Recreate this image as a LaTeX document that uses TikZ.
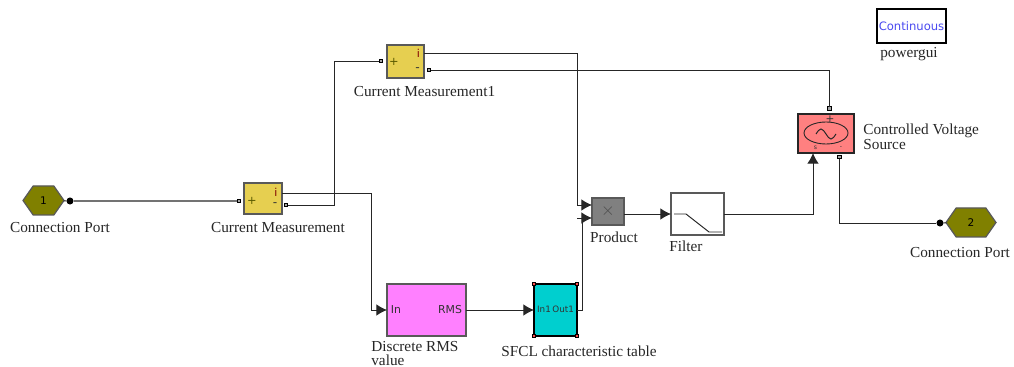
\documentclass[tikz,border=0pt]{standalone}
\usepackage{fontspec}
\setmainfont{Liberation Serif}
\newfontfamily\blockfont{DejaVu Sans}
\usetikzlibrary{positioning}
\usetikzlibrary{arrows.meta}
\usetikzlibrary{shapes.geometric}
\usetikzlibrary{shapes.symbols}
\definecolor{portolive}{HTML}{808000}
\definecolor{measyellow}{HTML}{E6CF50}
\definecolor{rmspink}{HTML}{FF80FF}
\definecolor{tablecyan}{HTML}{00CFCF}
\definecolor{sourcered}{HTML}{FF8080}
\definecolor{linkblue}{HTML}{4A4AF0}
\tikzset{
wire/.style={line width=0.55pt, draw=black!85}, % plain connection
feed/.style={wire, -{Latex[length=6pt,width=6.5pt]}}, % connection that ends on a signal input
block/.style={draw=black!65, line width=0.7pt, inner sep=0pt, outer sep=0pt},
conn/.style={block, shape=signal, signal to=east and west, signal pointer angle=110, fill=portolive, minimum height=0.58cm, font=\blockfont\fontsize{6}{7}\selectfont},
port/.style={draw=black, fill=black!35, line width=0.5pt, inner sep=0pt, outer sep=0pt, minimum size=2.2pt},
dot/.style={circle, fill=black, inner sep=0pt, outer sep=0pt, minimum size=4pt},
handle/.style={draw=black, fill=red!70, line width=0.6pt, inner sep=0pt, minimum size=2pt},
title/.style={font=\fontsize{8.7}{8}\selectfont, text=black!85, inner sep=0pt},
tag/.style={font=\blockfont\fontsize{6.2}{7}\selectfont, text=black!80, inner sep=0pt},
}

\begin{document}
\begin{tikzpicture}[x=0.02cm, y=-0.02cm]
\useasboundingbox (0,0) rectangle (1014,367);
% blocks
\node[conn, minimum width=0.82cm] (PORTA) at (43.5,200.5) {1};
\node[dot] (DOTA) at (70,201) {};
\node[block, fill=measyellow, minimum width=0.76cm, minimum height=0.62cm] (CM) at (263,198.5) {};
\node[block, fill=measyellow, minimum width=0.74cm, minimum height=0.66cm] (CMB) at (405.5,61.5) {};
\node[block, fill=rmspink, minimum width=1.58cm, minimum height=1.04cm] (RMS) at (426.5,310) {};
\node[block, draw=black, fill=tablecyan, minimum width=0.86cm, minimum height=1.04cm] (SFCL) at (555.5,310) {};
\node[block, fill=black!50, minimum width=0.64cm, minimum height=0.54cm, text=black!70] (PROD) at (608,211.5) {$\times$};
\node[block, fill=white, minimum width=1.06cm, minimum height=0.84cm] (FILT) at (697.5,214) {};
\node[block, draw=black!85, fill=sourcered, minimum width=1.12cm, minimum height=0.78cm] (SRC) at (826,133.5) {};
\node[conn, minimum width=1cm] (PORTB) at (971,222.5) {2};
\node[dot] (DOTB) at (940,223) {};
\node[block, draw=black, fill=white, minimum width=1.38cm, minimum height=0.68cm, text=linkblue, font=\blockfont\fontsize{6.6}{8}\selectfont] (GUI) at (911.5,26) {Continuous};
% small marks inside the blocks
\node[tag, text=portolive!70!black, font=\blockfont\fontsize{6.5}{8}\selectfont] (CMplus) at (252,201) {+};
\node[tag, text=red!50!black] (CMitag) at (276,192.5) {i};
\node[tag, font=\blockfont\fontsize{7}{8}\selectfont] (CMmtag) at (275,205) {-};
\node[tag, text=portolive!70!black, font=\blockfont\fontsize{6.5}{8}\selectfont] (CMBplus) at (394,62) {+};
\node[tag, text=red!50!black] (CMBitag) at (418.5,53) {i};
\node[tag, font=\blockfont\fontsize{7}{8}\selectfont] (CMBmtag) at (417.5,70) {-};
\node[tag] (RMSin) at (396,310) {In};
\node[tag] (RMSout) at (450,310) {RMS};
\node[tag, font=\blockfont\fontsize{5}{7}\selectfont] (SFCLtag) at (555.5,309) {In1\,Out1};
\node[draw=black!85, ellipse, line width=0.5pt, inner sep=0pt, minimum width=0.88cm, minimum height=0.44cm] (SRCicon) at (826,133) {};
\node[tag, font=\blockfont\fontsize{6}{7}\selectfont] (SRCplus) at (830,119.5) {+};
\node[tag, font=\blockfont\fontsize{3.5}{4}\selectfont] (SRCs) at (815.5,148) {s};
\node[tag, font=\blockfont\fontsize{3.5}{4}\selectfont] (SRCm) at (841,148) {-};
\draw[wire] (816,134) sin (821,129) cos (826,134) sin (831,139) cos (836,134);
\draw[wire] (674,214) -- (686,214) -- (709,232) -- (722,232);
\node[handle] (HA) at (SFCL.north west) {};
\node[handle] (HB) at (SFCL.north east) {};
\node[handle] (HC) at (SFCL.south west) {};
\node[handle] (HD) at (SFCL.south east) {};
% ports
\node[port] (CMin) at (239,201) {};
\node[port] (CMminus) at (286,205) {};
\node[port] (CMBin) at (381,61) {};
\node[port] (CMBminus) at (429,70) {};
\node[port] (SRCtop) at (829,108.5) {};
\node[port] (SRCbot) at (839,157) {};
% where the wires bend or meet a block side
\coordinate (CMi) at (282,193);
\coordinate (CMBi) at (424,53);
\coordinate (bendA) at (334,61);
\coordinate (bendB) at (371,193);
\coordinate (bendC) at (577,53);
\coordinate (bendD) at (582,218);
\coordinate (PRODa) at (592,205);
\coordinate (PRODb) at (592,218);
\coordinate (PRODc) at (624,214);
\coordinate (stub) at (577,218);
\coordinate (SRCin) at (813,153);
% wires
\draw[wire] (PORTA) -- (DOTA);
\draw[wire, draw=black!55, line width=0.8pt] (DOTA) -- (CMin);
\draw[wire] (CMminus) -| (bendA) -- (CMBin);
\draw[feed] (CMi) -- (bendB) |- (RMS.west);
\draw[feed] (RMS.east) -- (SFCL.west);
\draw[wire] (SFCL.east) -| (bendD);
\draw[feed] (stub) -- (PRODb);
\draw[feed] (CMBi) -- (bendC) |- (PRODa);
\draw[feed] (PRODc) -- (FILT.west);
\draw[feed] (FILT.east) -| (SRCin);
\draw[wire] (CMBminus) -| (SRCtop);
\draw[wire] (SRCbot) |- (DOTB);
\draw[wire] (DOTB) -- (PORTB);
% titles
\node[title] (tPORTA) at (60,228) {Connection Port};
\node[title] (tCM) at (278,228) {Current Measurement};
\node[title] (tCMB) at (424.5,92) {Current Measurement1};
\node[title, align=left, anchor=north west] (tRMS) at (371,341) {Discrete RMS\\value};
\node[title] (tSFCL) at (579,351) {SFCL characteristic table};
\node[title] (tPROD) at (614,237.5) {Product};
\node[title] (tFILT) at (686,246.5) {Filter};
\node[title, align=left, anchor=north west] (tSRC) at (863,124) {Controlled Voltage\\Source};
\node[title] (tPORTB) at (960,252.5) {Connection Port};
\node[title] (tGUI) at (909,54.5) {powergui};
\end{tikzpicture}
\end{document}
